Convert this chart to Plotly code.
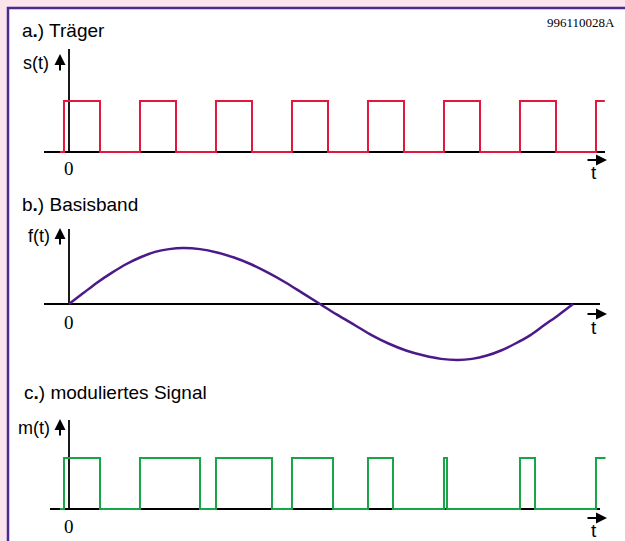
import plotly.graph_objects as go

# ---------------- data (time in carrier periods, amplitude normalised) ----------------
carrier_start = -0.118
carrier_rise = [-0.066, 0.934, 1.934, 2.934, 3.934, 4.934, 5.934, 6.934]
carrier_fall = [0.408, 1.408, 2.408, 3.408, 4.408, 5.408, 6.408]
carrier_end = 7.05

base_t = [0.0, 0.184, 0.368, 0.566, 0.75, 0.934, 1.132, 1.316, 1.5,
          1.724, 1.947, 2.171, 2.395, 2.618, 2.855, 3.079, 3.303,
          3.526, 3.763, 3.987, 4.211, 4.434, 4.671, 4.895, 5.118,
          5.303, 5.5, 5.684, 5.868, 6.066, 6.25, 6.447, 6.632]
base_f = [0.0, 0.19, 0.38, 0.56, 0.71, 0.83, 0.93, 0.98, 1.0,
          0.98, 0.92, 0.83, 0.71, 0.56, 0.38, 0.19, 0.0,
          -0.19, -0.38, -0.56, -0.71, -0.83, -0.92, -0.98, -1.0,
          -0.98, -0.92, -0.83, -0.71, -0.56, -0.38, -0.19, 0.0]

mod_start = -0.118
mod_rise = [-0.066, 0.934, 1.934, 2.934, 3.934, 4.934, 5.934, 6.934]
mod_fall = [0.408, 1.724, 2.671, 3.474, 4.263, 4.974, 6.132]
mod_end = 7.06

titles = ["a<b>.</b>) Träger", "b<b>.</b>) Basisband", "c<b>.</b>) moduliertes Signal"]
ylabels = ["s(t)", "f(t)", "m(t)"]
code_label = "996110028A"

# ---------------- geometry helpers ----------------
W, H = 625, 541
X0PX, XSCALE = 69, 76.0


def px(x):
    return x / W


def py(y):
    return 1 - y / H


def pulse_xy(start, rises, falls, end):
    xs, ys = [start], [0]
    for i, r in enumerate(rises):
        xs.append(r); ys.append(1)
        if i < len(falls):
            xs.append(falls[i]); ys.append(0)
    xs.append(end); ys.append(ys[-1])
    return xs, ys


fig = go.Figure()

cx, cy = pulse_xy(carrier_start, carrier_rise, carrier_fall, carrier_end)
mx, my = pulse_xy(mod_start, mod_rise, mod_fall, mod_end)

fig.add_trace(go.Scatter(x=cx, y=cy, mode="lines", line=dict(color="#e3173e", width=2, shape="hv"),
                         xaxis="x", yaxis="y", hoverinfo="skip"))
fig.add_trace(go.Scatter(x=base_t, y=base_f, mode="lines",
                         line=dict(color="#4b1a88", width=2.5, shape="spline", smoothing=1),
                         xaxis="x2", yaxis="y2", hoverinfo="skip"))
fig.add_trace(go.Scatter(x=mx, y=my, mode="lines", line=dict(color="#18a548", width=2, shape="hv"),
                         xaxis="x3", yaxis="y3", hoverinfo="skip"))

# panels: (baseline px, px per unit, top px, bottom px)
panels = [(152, 51.0, 35, 190), (304, 56.0, 215, 375), (509, 51.0, 405, 541)]
xr = [(0 - X0PX) / XSCALE, (W - X0PX) / XSCALE]
layout_axes = {}
for i, (base, sc, top, bot) in enumerate(panels):
    sfx = "" if i == 0 else str(i + 1)
    layout_axes["xaxis" + sfx] = dict(domain=[0, 1], range=xr, visible=False, anchor="y" + sfx)
    layout_axes["yaxis" + sfx] = dict(domain=[py(bot), py(top)],
                                      range=[(base - bot) / sc, (base - top) / sc],
                                      visible=False, anchor="x" + sfx)

shapes = []
# white panel with purple border
shapes.append(dict(type="rect", xref="paper", yref="paper", x0=px(8), x1=px(660), y0=py(580), y1=py(8),
                   fillcolor="white", line=dict(color="#4a2a8e", width=2.5), layer="below"))

# axis lines (x start px, x end px, vertical top px)
axis_ext = [(44, 605, 49), (44, 600, 229), (50, 600, 420)]
for i, ((base, sc, top, bot), (xs, xe, vt)) in enumerate(zip(panels, axis_ext)):
    sfx = "" if i == 0 else str(i + 1)
    shapes.append(dict(type="line", xref="x" + sfx, yref="y" + sfx,
                       x0=(xs - X0PX) / XSCALE, x1=(xe - X0PX) / XSCALE, y0=0, y1=0,
                       line=dict(color="black", width=2), layer="below"))
    shapes.append(dict(type="line", xref="x" + sfx, yref="y" + sfx,
                       x0=0, x1=0, y0=0, y1=(base - vt) / sc,
                       line=dict(color="black", width=1.8), layer="below"))

annotations = []
sans = "Liberation Sans"
serif = "Liberation Serif"
annotations.append(dict(text=code_label, xref="paper", yref="paper", x=px(617), y=py(22.5),
                        xanchor="right", yanchor="middle", showarrow=False,
                        font=dict(family=serif, size=13, color="black")))

title_pos = [(20, 30), (20, 204), (22, 392)]
label_pos = [(51, 63), (52, 236), (52, 428)]
arrow_y = [(54, 72), (228, 246), (419, 437)]
zero_y = [168.5, 322, 526]
tarrow_y = [160, 314, 518]
t_y = [172, 327, 530]
for i in range(3):
    annotations.append(dict(text=titles[i], xref="paper", yref="paper", x=px(title_pos[i][0]),
                            y=py(title_pos[i][1]), xanchor="left", yanchor="middle", showarrow=False,
                            font=dict(family=sans, size=19, color="black")))
    annotations.append(dict(text=ylabels[i], xref="paper", yref="paper", x=px(label_pos[i][0]),
                            y=py(label_pos[i][1]), xanchor="right", yanchor="middle", showarrow=False,
                            font=dict(family=sans, size=18, color="black")))
    # up arrow
    annotations.append(dict(text="", xref="paper", yref="paper", x=px(60), y=py(arrow_y[i][0]),
                            ax=0, ay=arrow_y[i][1] - arrow_y[i][0], showarrow=True,
                            arrowhead=2, arrowsize=1.1, arrowwidth=2, arrowcolor="black"))
    annotations.append(dict(text="0", xref="paper", yref="paper", x=px(69), y=py(zero_y[i]),
                            xanchor="center", yanchor="middle", showarrow=False,
                            font=dict(family=serif, size=19, color="black")))
    # t arrow
    annotations.append(dict(text="", xref="paper", yref="paper", x=px(607), y=py(tarrow_y[i]),
                            ax=-21, ay=0, showarrow=True,
                            arrowhead=2, arrowsize=1.1, arrowwidth=2, arrowcolor="black"))
    annotations.append(dict(text="t", xref="paper", yref="paper", x=px(593.5), y=py(t_y[i]),
                            xanchor="center", yanchor="middle", showarrow=False,
                            font=dict(family=sans, size=19, color="black")))

fig.update_layout(
    width=W, height=H,
    margin=dict(l=0, r=0, t=0, b=0),
    paper_bgcolor="#fce4ec",
    plot_bgcolor="rgba(0,0,0,0)",
    showlegend=False,
    shapes=shapes,
    annotations=annotations,
    **layout_axes,
)

fig.write_html("out.html", config={"displayModeBar": False},
               post_script="document.body.style.margin='0';document.body.style.background='#fce4ec';")
